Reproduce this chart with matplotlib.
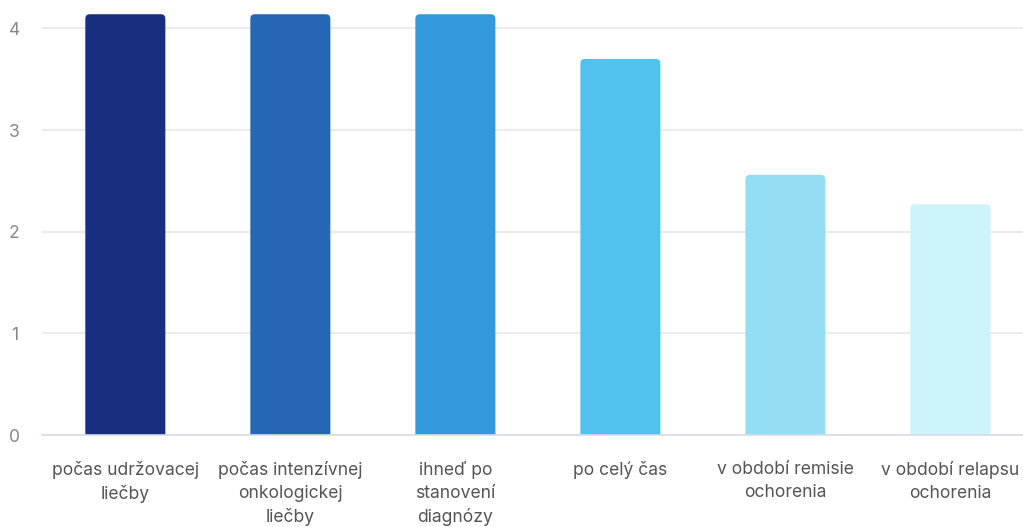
import numpy as np
import matplotlib.pyplot as plt
from matplotlib.patches import FancyBboxPatch

plt.rcParams['font.family'] = ['Inter', 'DejaVu Sans']

# chart data
categories = ['počas udržovacej\nliečby', 'počas intenzívnej\nonkologickej\nliečby',
              'ihneď po\nstanovení\ndiagnózy', 'po celý čas',
              'v období remisie\nochorenia', 'v období relapsu\nochorenia']
values = [4.14, 4.14, 4.14, 3.70, 2.56, 2.27]
colors = ['#172f7e', '#2566b5', '#3399dd', '#4fc3ed', '#93def3', '#cdf3fb']
yticks = [0, 1, 2, 3, 4]

fig = plt.figure(figsize=(10.23, 5.27), dpi=100)
ax = fig.add_axes([42/1023, 92/527, 981/1023, 435/527])

x = np.arange(len(values))
bars = ax.bar(x, values, width=0.485, color=colors, zorder=2)

# swap plain bars for rounded-top ones
px_x = 165.0   # pixels per x unit
px_y = 101.7   # pixels per y unit
r = 4.5 / px_x
for b, c in zip(bars, colors):
    bx, bw, bh = b.get_x(), b.get_width(), b.get_height()
    b.remove()
    p = FancyBboxPatch((bx + r, -0.5 + r * px_x / px_y), bw - 2 * r, bh + 0.5 - 2 * r * px_x / px_y,
                       boxstyle='round,pad=%f,rounding_size=%f' % (r, r),
                       mutation_aspect=px_x / px_y, facecolor=c, edgecolor='none', zorder=2)
    ax.add_patch(p)

ax.set_xlim(-0.505, 5.44)
ax.set_ylim(0, 4.28)
ax.set_yticks(yticks)
ax.set_xticks(x)
ax.set_xticklabels(categories, fontsize=12.6, color='#555555', linespacing=1.42)
ax.tick_params(axis='x', length=0, pad=19)
ax.tick_params(axis='y', length=0, pad=20, labelsize=12.6, labelcolor='#888888')
for lab in ax.get_yticklabels():
    lab.set_horizontalalignment('center')

ax.grid(axis='y', color='#e8e8e8', linewidth=1.2, zorder=0)
for s in ['top', 'right', 'left']:
    ax.spines[s].set_visible(False)
ax.spines['bottom'].set_color('#d5dcea')
ax.spines['bottom'].set_linewidth(1.2)
ax.spines['bottom'].set_zorder(3)

fig.savefig('out.png', dpi=100)
